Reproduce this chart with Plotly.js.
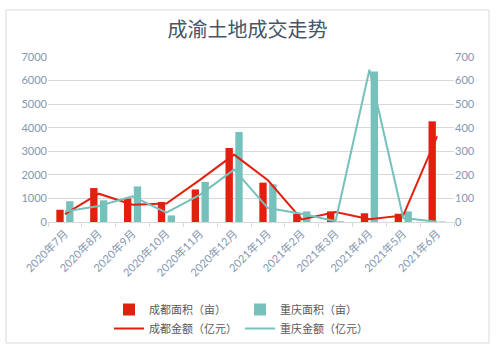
<!DOCTYPE html>
<html><head><meta charset="utf-8">
<script src="https://cdn.plot.ly/plotly-3.0.1.min.js"></script>
<style>html,body{margin:0;padding:0;background:#fff}#c{width:500px;height:354px}</style>
</head><body><div id="c"></div>
<script>
const months = ['2020年7月','2020年8月','2020年9月','2020年10月','2020年11月','2020年12月','2021年1月','2021年2月','2021年3月','2021年4月','2021年5月','2021年6月'];
const cdArea = [520, 1440, 1000, 850, 1380, 3140, 1670, 350, 450, 370, 350, 4270];
const cqArea = [880, 920, 1510, 280, 1700, 3820, 1600, 450, 30, 6390, 450, 20];
const cdAmount = [33, 120, 73, 78, 180, 286, 177, 11, 42, 12, 28, 363];
const cqAmount = [45, 68, 109, 40, 116, 222, 59, 35, 3, 646, 17, 1];

const red = '#e3200f', teal = '#77c1bc';
const FONT = "Lato, 'Noto Sans CJK SC', sans-serif";
const tickCol = '#8497b0';

const traces = [
  {type:'bar', name:'成都面积（亩）', x:months, y:cdArea, marker:{color:red}, legend:'legend'},
  {type:'bar', name:'重庆面积（亩）', x:months, y:cqArea, marker:{color:teal}, legend:'legend2'},
  {type:'scatter', mode:'lines', name:'成都金额（亿元）', x:months, y:cdAmount, yaxis:'y2', line:{color:red, width:2}, legend:'legend'},
  {type:'scatter', mode:'lines', name:'重庆金额（亿元）', x:months, y:cqAmount, yaxis:'y2', line:{color:teal, width:2}, legend:'legend2'}
];

const legendBase = {xref:'container', yref:'container', y:1-295/354, yanchor:'top', xanchor:'left',
  font:{family:FONT, size:11, color:'#595959'}, bgcolor:'rgba(0,0,0,0)', itemwidth:30, tracegroupgap:0};

const layout = {
  width:500, height:354,
  margin:{l:48, r:46, t:57, b:132, autoexpand:false},
  paper_bgcolor:'#fff', plot_bgcolor:'#fff',
  font:{family:FONT, color:tickCol},
  title:{text:'成渝土地成交走势', font:{family:"'Noto Sans CJK SC', sans-serif", size:20, color:'#44546a'},
    x:0.495, xanchor:'center', xref:'container', yref:'container', y:1-30/354, yanchor:'middle'},
  barmode:'group', bargap:0.42, bargroupgap:0.25,
  xaxis:{type:'category', tickangle:-45, tickfont:{size:11, color:tickCol, family:FONT}, automargin:false,
    showline:true, linecolor:'#d9d9d9', ticks:'outside', ticklen:4, tickcolor:'#d9d9d9', tickson:'boundaries',
    showgrid:false, fixedrange:true},
  yaxis:{range:[0,7000], dtick:1000, showgrid:true, gridcolor:'#d9d9d9', zeroline:false, automargin:false,
    tickfont:{size:11, color:tickCol, family:FONT}, ticks:'', fixedrange:true},
  yaxis2:{range:[0,700], dtick:100, overlaying:'y', side:'right', showgrid:false, zeroline:false, automargin:false,
    tickfont:{size:11, color:tickCol, family:FONT}, ticks:'', fixedrange:true},
  legend:Object.assign({}, legendBase, {x:109/500}),
  legend2:Object.assign({}, legendBase, {x:240/500}),
  shapes:[{type:'rect', xref:'paper', yref:'paper', x0:(6-48)/406, x1:(489-48)/406, y0:(222-343)/165, y1:(222-10)/165,
    line:{color:'#d9d9d9', width:1}, layer:'below'}],
  showlegend:true
};
Plotly.newPlot('c', traces, layout, {displayModeBar:false, staticPlot:true});
</script></body></html>
